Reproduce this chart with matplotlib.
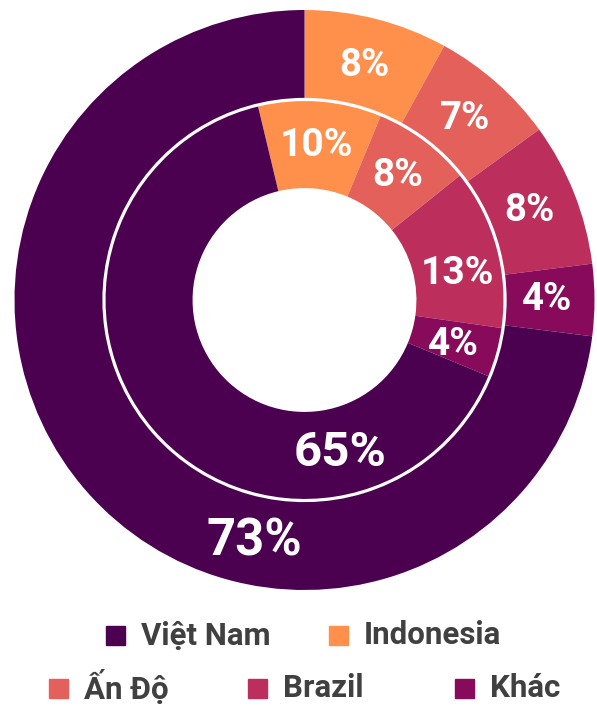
import matplotlib.pyplot as plt
from matplotlib.patches import Rectangle
import numpy as np

plt.rcParams['font.family'] = ['Roboto', 'DejaVu Sans']

# data
categories = ['Việt Nam', 'Indonesia', 'Ấn Độ', 'Brazil', 'Khác']
colors = ['#4b0050', '#fe904c', '#e4605a', '#bc2f5c', '#880b5b']
outer_values = [73, 8, 7, 8, 4]   # outer ring
inner_values = [65, 10, 8, 13, 4]  # inner ring

# pie order clockwise from the top: Indonesia ... Khác, then Việt Nam
order = [1, 2, 3, 4, 0]

W, H = 597, 706
fig = plt.figure(figsize=(W / 100, H / 100), dpi=100)
ax = fig.add_axes([14.5 / W, 116 / H, 580 / W, 580 / H])


def ring(values, radius, width, start, label_r, size, big_angle, big_r, big_size, nudge=None):
    nudge = nudge or {}
    vals = [values[i] for i in order]
    cols = [colors[i] for i in order]
    wedges, _ = ax.pie(vals, radius=radius, startangle=start, counterclock=False,
                       colors=cols, wedgeprops=dict(width=width, edgecolor='none'))
    for w, v, idx in zip(wedges, vals, order):
        if idx == 0:
            # the big slice label sits off-centre in the reference
            ang, r, fs = big_angle, big_r, big_size
        else:
            ang, r, fs = (w.theta1 + w.theta2) / 2 - nudge.get(idx, 0), label_r, size
        x = r * np.cos(np.radians(ang))
        y = r * np.sin(np.radians(ang))
        ax.text(x, y, f'{v}%', ha='center', va='center', color='white',
                fontsize=fs, fontweight='bold')


ring(outer_values, 1.0, 0.303, 90, 0.835, 27.5, 90 - 191.8, 0.85, 36.5)
ring(inner_values, 0.686, 0.30, 103.5, 0.535, 28, 90 - 167, 0.54, 35.5,
     nudge={3: 5.5, 4: 1.5})

ax.set_xlim(-1, 1)
ax.set_ylim(-1, 1)
ax.set_aspect('equal')
ax.axis('off')

# legend in two rows, drawn by hand to follow the reference layout
rows = [[0, 1], [2, 3, 4]]
row_y = [635.5, 688]
row_x = [[106, 329], [49, 248, 455]]
sq = 19
for items, yy, xs in zip(rows, row_y, row_x):
    for i, xx in zip(items, xs):
        fig.patches.append(Rectangle((xx / W, 1 - (yy + sq / 2) / H), sq / W, sq / H,
                                     transform=fig.transFigure, color=colors[i]))
        fig.text((xx + sq + 16) / W, 1 - yy / H, categories[i], ha='left', va='center',
                 fontsize=22.5, fontweight='bold', color='#404040')

fig.savefig('out.png', dpi=100)
